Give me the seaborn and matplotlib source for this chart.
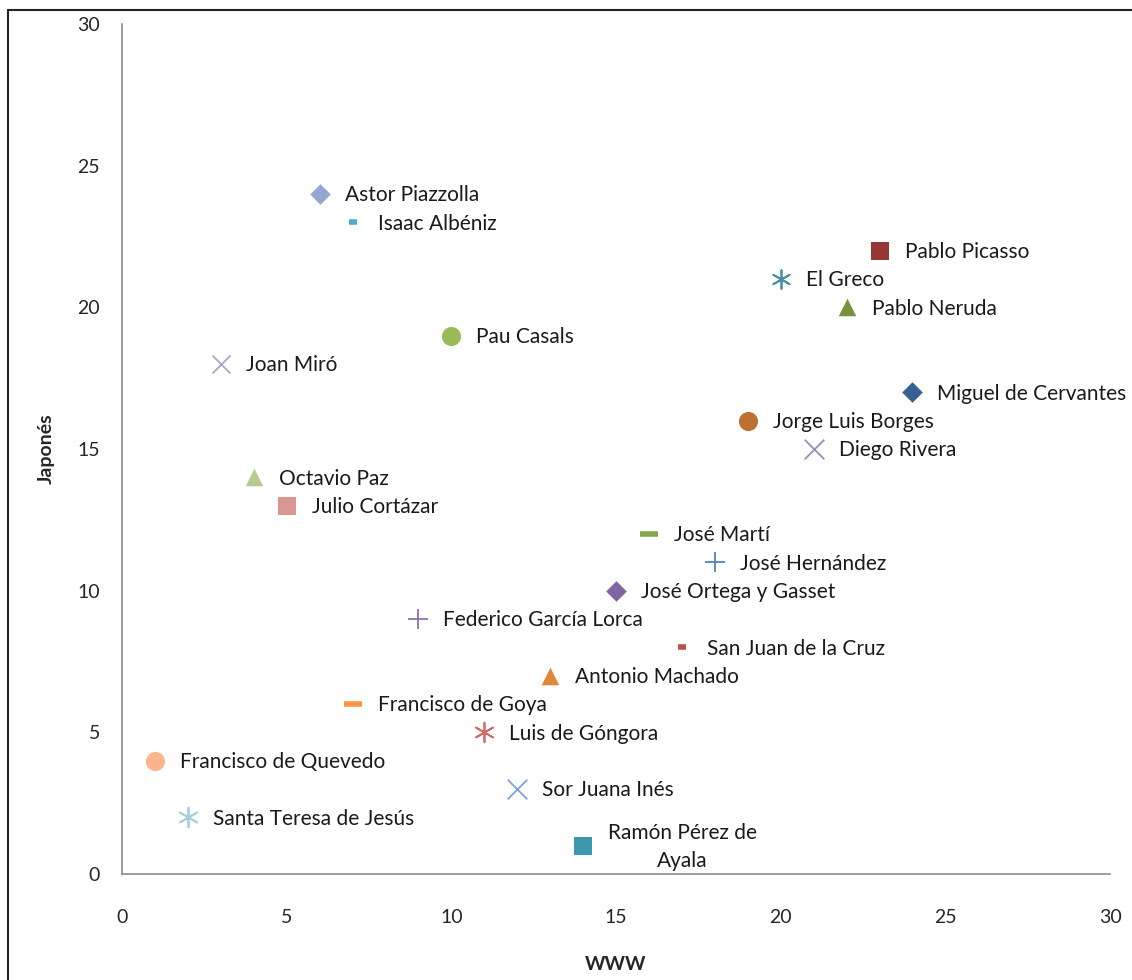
import matplotlib
matplotlib.use("Agg")
import matplotlib.pyplot as plt
import seaborn as sns
from matplotlib.patches import Rectangle

names = ["Astor Piazzolla", "Isaac Albéniz", "Pablo Picasso", "El Greco", "Pablo Neruda",
         "Pau Casals", "Joan Miró", "Miguel de Cervantes", "Jorge Luis Borges", "Diego Rivera",
         "Octavio Paz", "Julio Cortázar", "José Martí", "José Hernández", "José Ortega y Gasset",
         "Federico García Lorca", "San Juan de la Cruz", "Antonio Machado", "Francisco de Goya",
         "Luis de Góngora", "Francisco de Quevedo", "Sor Juana Inés", "Santa Teresa de Jesús",
         "Ramón Pérez de\nAyala"]
www = [6, 7, 23, 20, 22, 10, 3, 24, 19, 21, 4, 5, 16, 18, 15, 9, 17, 13, 7, 11, 1, 12, 2, 14]
japones = [24, 23, 22, 21, 20, 19, 18, 17, 16, 15, 14, 13, 12, 11, 10, 9, 8, 7, 6, 5, 4, 3, 2, 1]

asterisk = (6, 2, 0)
markers = ["D", "_", "s", asterisk, "^", "o", "x", "D", "o", "x", "^", "s", "_", "+", "D",
           "+", "_", "^", "_", asterisk, "o", "x", asterisk, "s"]
colors = ["#94A7D1", "#4BACC6", "#953735", "#4A8FA3", "#77933C", "#9BBB59", "#B3A2C7", "#376092",
          "#BE7032", "#9A8DB5", "#B5CC8E", "#D99694", "#86A44A", "#4F81BD", "#8064A2", "#8C72B0",
          "#C0504D", "#E0873A", "#F79646", "#D36B68", "#FAB58A", "#7EA1D6", "#A5CFDF", "#3D97AE"]
sizes = [110, 40, 170, 180, 160, 190, 170, 110, 190, 200, 160, 170, 170, 200, 110,
         200, 40, 160, 170, 200, 190, 200, 200, 170]

sns.set_style("white")
plt.rcParams["font.family"] = ["Lato", "DejaVu Sans"]

fig = plt.figure(figsize=(11.32, 9.8), dpi=100)
ax = fig.add_axes([0.1078, 0.1082, 0.8728, 0.8673])

for x, y, m, c, s in zip(www, japones, markers, colors, sizes):
    if m in ("x", "+", "_", asterisk):
        lw = 4 if m == "_" else 1.3
        sns.scatterplot(x=[x], y=[y], marker=m, color=c, s=s, linewidth=lw, ax=ax)
    else:
        sns.scatterplot(x=[x], y=[y], marker=m, color=c, s=s, linewidth=0, ax=ax)

for x, y, n in zip(www, japones, names):
    ax.annotate(n, (x, y), xytext=(18, -1), textcoords="offset points",
                ha="left", va="center", multialignment="center", linespacing=1.45,
                fontsize=15, color="#1a1a1a", annotation_clip=False)

ax.set_xlim(0, 30)
ax.set_ylim(0, 30)
ax.set_xticks(range(0, 31, 5))
ax.set_yticks(range(0, 31, 5))
ax.spines["top"].set_visible(False)
ax.spines["right"].set_visible(False)
for sp in ("left", "bottom"):
    ax.spines[sp].set_color("#8c8c8c")
    ax.spines[sp].set_linewidth(1.2)
ax.tick_params(axis="y", direction="inout", length=12, width=1.2, color="#8c8c8c",
               labelsize=14, pad=10)
ax.tick_params(axis="x", direction="out", length=7, width=1.2, color="#8c8c8c",
               labelsize=14, pad=18)
ax.set_xlabel("WWW", fontsize=14, fontweight="bold", labelpad=22)
ax.set_ylabel("Japonés", fontsize=14, fontweight="bold", labelpad=16)

fig.patches.append(Rectangle((8 / 1132, -0.05), 1.2, 1.05 - 10 / 980, transform=fig.transFigure,
                             fill=False, edgecolor="#222222", linewidth=1.5))

fig.savefig("out.png", dpi=100)
